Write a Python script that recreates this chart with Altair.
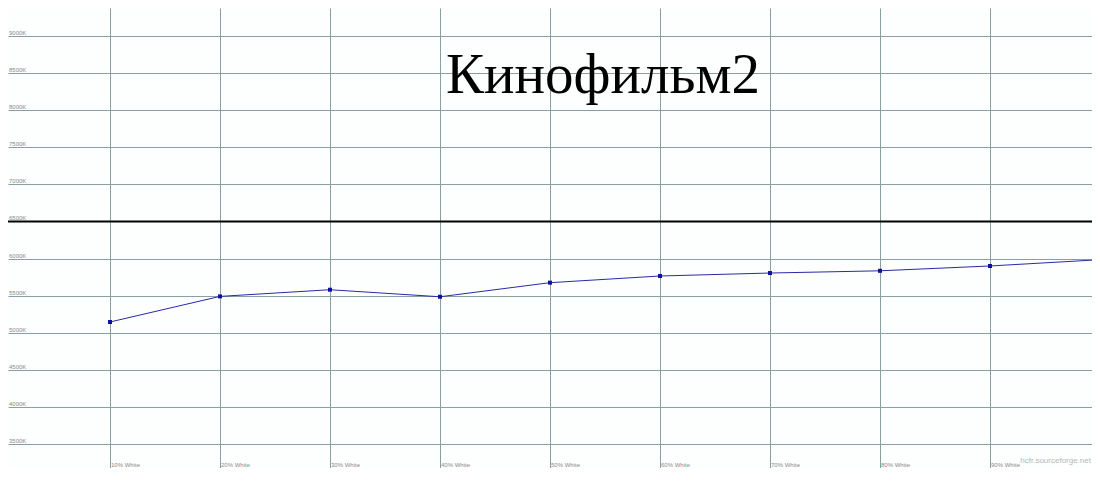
import altair as alt
import pandas as pd

# ---- data ----
levels = [1, 2, 3, 4, 5, 6, 7, 8, 9, 10]
level_labels = ["10% White", "20% White", "30% White", "40% White", "50% White",
                "60% White", "70% White", "80% White", "90% White", "100% White"]
temps = [5145, 5490, 5580, 5485, 5675, 5765, 5805, 5835, 5900, 5985]
ref_levels = [0, 10]
ref_temps = [6500, 6500]
y_ticks = [3500, 4000, 4500, 5000, 5500, 6000, 6500, 7000, 7500, 8000, 8500, 9000]
x_grid = [0, 1, 2, 3, 4, 5, 6, 7, 8, 9, 10]
title_text = "Кинофильм2"
watermark = "hcfr.sourceforge.net"

W, H = 1084, 460
GRID = "#8aa0a0"

series = pd.DataFrame({"v": levels, "K": temps, "label": level_labels})
ref = pd.DataFrame({"v": ref_levels, "K": ref_temps})
yt = pd.DataFrame({"K": y_ticks, "t": [f"{k}K" for k in y_ticks]})
xl = pd.DataFrame({"v": levels[:9], "t": level_labels[:9]})

xs = alt.Scale(domain=[8 / 110, 1092 / 110], nice=False, zero=False)
ys = alt.Scale(domain=[3000 + (481.1 - 8 - H) * 13.481, 3000 + (481.1 - 8) * 13.481],
               nice=False, zero=False)

grid_x = alt.Axis(values=x_grid, grid=True, gridColor=GRID, gridWidth=1, labels=False,
                  ticks=False, domain=False, title=None)
grid_y = alt.Axis(values=y_ticks, grid=True, gridColor=GRID, gridWidth=1, labels=False,
                  ticks=False, domain=False, title=None)

ref_line = alt.Chart(ref).mark_line(color="black", strokeWidth=2.2, clip=True,
                                     point=alt.OverlayMarkDef(shape="square", size=16, color="black")).encode(
    x=alt.X("v:Q", scale=xs, axis=grid_x),
    y=alt.Y("K:Q", scale=ys, axis=grid_y),
)

line = alt.Chart(series).mark_line(color="#2a2aa8", strokeWidth=1, clip=True).encode(
    x=alt.X("v:Q", scale=xs), y=alt.Y("K:Q", scale=ys))
pts = alt.Chart(series).mark_square(color="#1010a0", size=16, opacity=1, clip=True).encode(
    x=alt.X("v:Q", scale=xs), y=alt.Y("K:Q", scale=ys))

ylab = alt.Chart(yt).mark_text(align="left", baseline="bottom", fontSize=6, dx=0, dy=0,
                               color="#8a8a8a", font="Arial").encode(
    x=alt.value(1), y=alt.Y("K:Q", scale=ys), text="t:N")

xlab = alt.Chart(xl).mark_text(align="left", baseline="bottom", fontSize=6, dx=1,
                               color="#8a8a8a", font="Arial").encode(
    x=alt.X("v:Q", scale=xs), y=alt.value(H), text="t:N")

ttl = alt.Chart(pd.DataFrame({"t": [title_text]})).mark_text(
    align="center", baseline="alphabetic", fontSize=57, font="Liberation Serif",
    color="black").encode(x=alt.value(595), y=alt.value(85), text="t:N")

wm = alt.Chart(pd.DataFrame({"t": [watermark]})).mark_text(
    align="right", baseline="middle", fontSize=8, font="Arial", color="#b8b8b8").encode(
    x=alt.value(W - 1), y=alt.value(H - 7), text="t:N")

chart = alt.layer(ref_line, line, pts, ylab, xlab, ttl, wm).properties(
    width=W, height=H, padding=0, autosize=alt.AutoSizeParams(type="none"),
    background="#ffffff"
).configure_view(stroke=None, fill="#fdfefe")

chart.save("out.html", embed_options={"renderer": "svg", "actions": False})
